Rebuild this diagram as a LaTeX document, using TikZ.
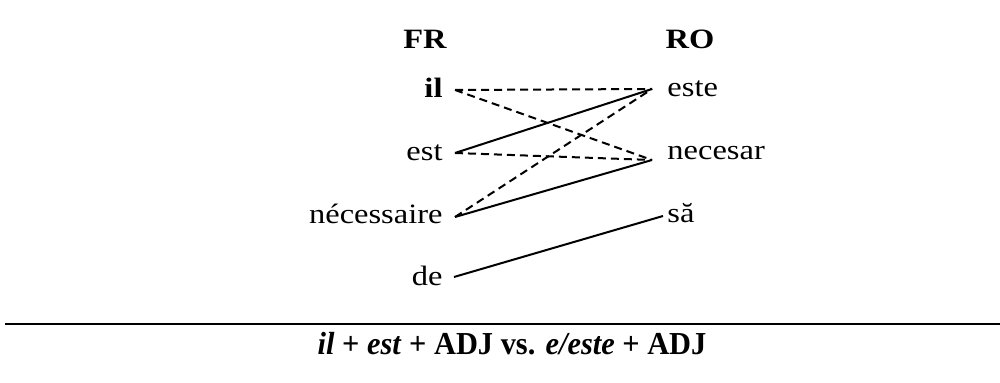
\documentclass[tikz,border=0pt]{standalone}
\usepackage{fontspec}
\setmainfont{Liberation Serif}
\begin{document}
\begin{tikzpicture}[x=0.5pt,y=-0.5pt,
  word/.style={inner sep=0pt,font=\fontsize{14}{17}\selectfont,xscale=1.16},
  lword/.style={word,anchor=base east},
  rword/.style={word,anchor=base west},
  head/.style={word,anchor=base,font=\fontsize{14}{17}\selectfont\bfseries},
  solidlink/.style={line width=1pt},
  dashlink/.style={line width=1pt,dash pattern=on 4pt off 2.5pt}]
\useasboundingbox (0,0) rectangle (1000,383);
% headers
\node[head] (fr) at (425,49) {FR};
\node[head] (ro) at (690,49) {RO};
% French words
\node[lword] (il) at (443,98) {\bfseries il};
\node[lword] (est) at (443,161) {est};
\node[lword] (nec) at (443,224) {nécessaire};
\node[lword] (de) at (443,286) {de};
% Romanian words
\node[rword] (este) at (667,97) {este};
\node[rword] (necesar) at (667,160) {necesar};
\node[rword] (sa) at (667,223) {să};
% connector end points
\coordinate (il-p) at (455,90);
\coordinate (est-p) at (455,153);
\coordinate (nec-p) at (455,217);
\coordinate (de-p) at (454,277);
\coordinate (este-p) at (652,89);
\coordinate (necesar-p) at (652,160);
\coordinate (sa-p) at (663,216);
% links
\draw[dashlink] (il-p) -- (este-p);
\draw[dashlink] (il-p) -- (necesar-p);
\draw[solidlink] (est-p) -- (este-p);
\draw[dashlink] (est-p) -- (necesar-p);
\draw[dashlink] (nec-p) -- (este-p);
\draw[solidlink] (nec-p) -- (necesar-p);
\draw[solidlink] (de-p) -- (sa-p);
% rule and caption
\coordinate (rule-l) at (5,324);
\coordinate (rule-r) at (1000,324);
\draw[line width=1pt] (rule-l) -- (rule-r);
\node[inner sep=0pt,anchor=base,xscale=0.95,font=\fontsize{16}{19}\selectfont\bfseries] (caption) at (512,355)
  {\textit{il} + \textit{est} + ADJ vs. \textit{e/este} + ADJ};
\end{tikzpicture}
\end{document}
